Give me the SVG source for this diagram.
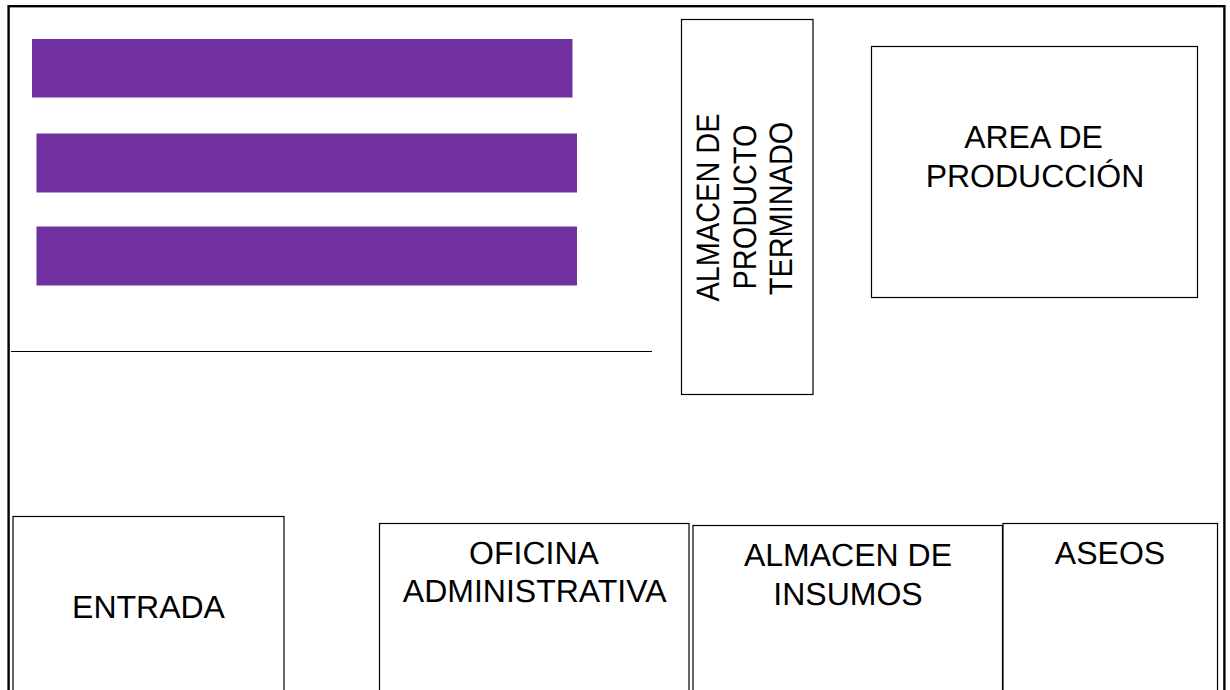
<svg xmlns="http://www.w3.org/2000/svg" width="1230" height="690" viewBox="0 0 1230 690">
<style>
.room{fill:#fff;stroke:#000;stroke-width:1.2}
.bar{fill:#7030a0}
text{font-family:"Liberation Sans",Arial,sans-serif;font-size:32px;fill:#000;text-anchor:middle;text-rendering:geometricPrecision}
.v{font-size:32.5px}
</style>
<rect width="1230" height="690" fill="#fff"/>
<rect id="frame" x="8.6" y="6.200" width="1215.800" height="700" fill="#fff" stroke="#000" stroke-width="2.400"/>
<g id="bar1"><rect class="bar" x="32" y="39" width="540.500" height="58.500"/></g>
<g id="bar2"><rect class="bar" x="36.500" y="133.500" width="540.500" height="59"/></g>
<g id="bar3"><rect class="bar" x="36.500" y="226.500" width="540.500" height="59"/></g>
<g id="connectors"><line x1="11" y1="351.500" x2="652" y2="351.500" stroke="#000" stroke-width="1.200"/></g>
<g id="almacen-producto">
<rect class="room" x="681.500" y="19.500" width="131.500" height="375"/>
<g transform="translate(719.300 207.500) rotate(-90) scale(0.89 1)"><text class="v">ALMACEN DE</text></g>
<g transform="translate(755.700 207) rotate(-90) scale(0.89 1)"><text class="v">PRODUCTO</text></g>
<g transform="translate(791.700 208.500) rotate(-90) scale(0.89 1)"><text class="v">TERMINADO</text></g>
</g>
<g id="area-produccion">
<rect class="room" x="871.500" y="46.500" width="326" height="251"/>
<text x="1033.500" y="147.700">AREA DE</text>
<text x="1035" y="187">PRODUCCIÓN</text>
</g>
<g id="entrada">
<rect class="room" x="13" y="516.500" width="271" height="190"/>
<text x="148.500" y="618">ENTRADA</text>
</g>
<g id="oficina">
<rect class="room" x="379.500" y="523.500" width="309.500" height="190"/>
<text x="534" y="564">OFICINA</text>
<text x="534.700" y="602.200">ADMINISTRATIVA</text>
</g>
<g id="almacen-insumos">
<rect class="room" x="693" y="525.500" width="309.500" height="190"/>
<text x="848" y="566">ALMACEN DE</text>
<text x="848" y="604.500">INSUMOS</text>
</g>
<g id="aseos">
<rect class="room" x="1003" y="523.500" width="214.500" height="190"/>
<text x="1110" y="564">ASEOS</text>
</g>
</svg>
